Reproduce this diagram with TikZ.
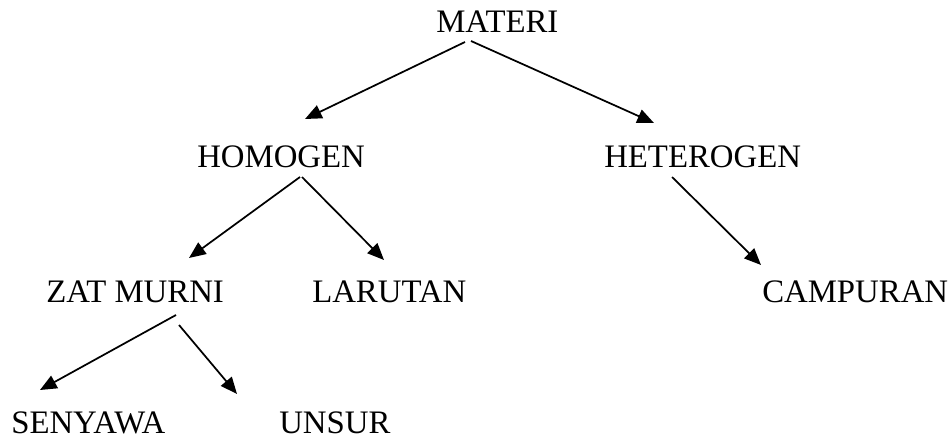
\documentclass[tikz,border=0pt]{standalone}
\usepackage{fontspec}
\setmainfont{Liberation Serif}
\usetikzlibrary{arrows.meta}

\begin{document}
\begin{tikzpicture}[x=0.75pt,y=-0.75pt,
    concept/.style={anchor=base west,inner sep=0pt,font=\fontsize{24.6}{28}\selectfont},
    link/.style={line width=1.3pt,-{Triangle[length=12.5pt,width=10.5pt]}}]
    \useasboundingbox (0,0) rectangle (949,441);
    \node[concept] (materi) at (436,33) {MATERI};
    \node[concept] (homogen) at (197,168) {HOMOGEN};
    \node[concept] (heterogen) at (604,168) {HETEROGEN};
    \node[concept] (zatmurni) at (46,303) {ZAT MURNI};
    \node[concept] (larutan) at (312,303) {LARUTAN};
    \node[concept] (campuran) at (762,303) {CAMPURAN};
    \node[concept] (senyawa) at (11,433) {SENYAWA};
    \node[concept] (unsur) at (279,433) {UNSUR};
    \coordinate (materiL) at (465,42);
    \coordinate (materiR) at (471,41);
    \coordinate (toHomogen) at (305,119);
    \coordinate (toHeterogen) at (654,123);
    \coordinate (homogenL) at (300,177);
    \coordinate (homogenR) at (302,177);
    \coordinate (toZat) at (189,258);
    \coordinate (toLarutan) at (384,260);
    \coordinate (heterogenB) at (672,177);
    \coordinate (toCampuran) at (761,265);
    \coordinate (zatL) at (176,315);
    \coordinate (zatR) at (179,325);
    \coordinate (toSenyawa) at (40,390);
    \coordinate (toUnsur) at (237,394);
    \draw[link] (materiL) -- (toHomogen);
    \draw[link] (materiR) -- (toHeterogen);
    \draw[link] (homogenL) -- (toZat);
    \draw[link] (homogenR) -- (toLarutan);
    \draw[link] (heterogenB) -- (toCampuran);
    \draw[link] (zatL) -- (toSenyawa);
    \draw[link] (zatR) -- (toUnsur);
\end{tikzpicture}
\end{document}
